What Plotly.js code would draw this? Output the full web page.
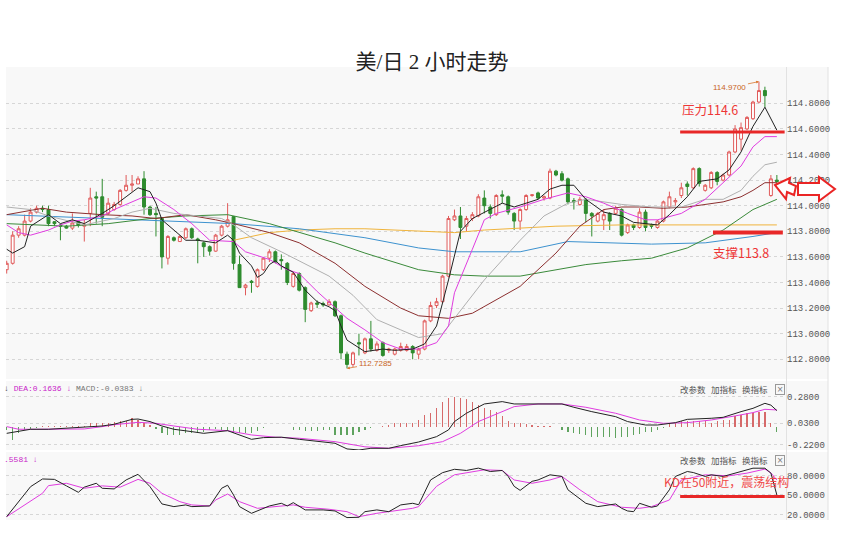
<!DOCTYPE html>
<html><head><meta charset="utf-8">
<script src="https://cdn.plot.ly/plotly-3.0.1.min.js"></script>
<style>html,body{margin:0;padding:0;background:#fff;}#chart{width:844px;height:539px;}</style>
</head><body><div id="chart"></div>
<script>
// ---- candle data (2-hour bars) ----
const candleOpen = [113.50,113.55,113.77,113.77,113.88,113.95,113.98,113.97,113.875,113.85,113.84,113.825,113.876,113.84,113.94,114.07,114.07,113.94,113.97,114.01,114.12,114.16,114.17,114.21,113.99,113.94,113.90,113.59,113.75,113.72,113.75,113.82,113.74,113.71,113.68,113.645,113.77,113.84,113.915,113.54,113.36,113.41,113.37,113.50,113.59,113.64,113.58,113.55,113.37,113.47,113.36,113.18,113.24,113.235,113.225,113.25,113.14,112.84,112.76,112.93,112.85,112.96,112.87,112.93,112.87,112.84,112.87,112.87,112.90,112.84,112.88,113.10,113.22,113.25,113.45,113.89,113.92,113.84,113.90,113.92,114.06,113.99,113.93,114.085,114.07,113.94,113.88,113.97,114.08,114.10,114.06,114.06,114.27,114.25,114.21,114.04,114.01,114.05,113.94,113.88,113.89,113.94,113.94,113.97,113.79,113.85,113.83,113.95,113.85,113.83,113.88,113.99,114.03,114.08,114.17,114.14,114.29,114.12,114.14,114.26,114.20,114.24,114.42,114.52,114.60,114.68,114.81,114.90,114.08,114.20];
const candleHigh = [113.57,113.80,113.84,113.93,113.98,114.00,114.00,114.00,113.88,113.86,113.85,113.94,113.88,113.89,114.14,114.11,114.21,114.06,114.03,114.13,114.24,114.24,114.23,114.27,114.00,113.99,113.91,113.77,113.76,113.77,113.83,113.83,113.75,113.72,113.69,113.78,113.85,114.02,113.92,113.61,113.39,113.42,113.51,113.60,113.66,113.65,113.62,113.56,113.48,113.48,113.37,113.25,113.26,113.25,113.27,113.26,113.15,112.86,112.86,113.00,112.97,113.10,112.94,112.94,112.89,112.89,112.93,112.92,112.91,112.89,113.11,113.25,113.28,113.46,113.92,113.97,113.99,113.92,113.95,114.09,114.12,114.01,114.09,114.12,114.08,113.95,113.98,114.09,114.09,114.11,114.08,114.29,114.28,114.27,114.22,114.06,114.07,114.06,113.95,113.95,113.97,113.95,114.00,113.98,113.86,113.86,113.98,113.97,113.86,113.89,114.04,114.11,114.06,114.18,114.19,114.30,114.30,114.17,114.27,114.27,114.25,114.43,114.63,114.65,114.70,114.82,114.97,114.93,114.24,114.24];
const candleLow = [113.47,113.54,113.75,113.76,113.87,113.94,113.95,113.84,113.84,113.73,113.82,113.81,113.83,113.72,113.84,113.86,113.84,113.93,113.96,114.00,114.11,114.11,114.17,113.93,113.92,113.76,113.51,113.54,113.72,113.72,113.74,113.74,113.55,113.60,113.61,113.64,113.76,113.83,113.50,113.36,113.30,113.32,113.36,113.49,113.56,113.55,113.50,113.38,113.36,113.33,113.09,113.17,113.20,113.21,113.22,113.13,112.80,112.7285,112.74,112.83,112.84,112.86,112.86,112.82,112.85,112.83,112.86,112.86,112.80,112.80,112.87,113.09,113.20,113.24,113.44,113.88,113.74,113.80,113.88,113.91,113.94,113.90,113.92,114.02,113.93,113.81,113.81,113.96,114.07,114.05,114.04,114.05,114.23,114.19,114.01,113.97,114.00,113.87,113.76,113.87,113.81,113.81,113.93,113.76,113.78,113.81,113.82,113.80,113.82,113.82,113.87,113.98,114.00,114.06,114.08,114.13,114.15,114.11,114.13,114.16,114.19,114.23,114.41,114.43,114.59,114.67,114.80,114.77,114.07,114.16];
const candleClose = [113.55,113.77,113.82,113.88,113.95,113.98,113.97,113.86,113.86,113.84,113.825,113.865,113.85,113.85,114.06,114.06,113.91,114.02,114.01,114.12,114.16,114.17,114.21,113.99,113.93,113.93,113.60,113.76,113.73,113.76,113.82,113.75,113.73,113.68,113.645,113.77,113.84,113.89,113.55,113.36,113.38,113.40,113.50,113.59,113.64,113.56,113.57,113.40,113.47,113.34,113.19,113.24,113.23,113.225,113.25,113.14,112.85,112.76,112.85,112.92,112.96,112.88,112.92,112.83,112.88,112.88,112.90,112.90,112.85,112.88,113.10,113.22,113.25,113.45,113.90,113.92,113.83,113.90,113.93,114.07,114.00,113.94,114.08,114.075,113.95,113.88,113.97,114.08,114.085,114.06,114.07,114.27,114.24,114.20,114.03,114.03,114.05,113.94,113.92,113.94,113.93,113.88,113.98,113.77,113.85,113.83,113.95,113.83,113.84,113.88,114.03,114.07,114.04,114.14,114.15,114.29,114.175,114.16,114.26,114.19,114.24,114.42,114.60,114.61,114.69,114.81,114.90,114.86,114.21,114.19];

// ---- moving averages (read at sample bars) ----
const ma5X = [0,1,3,4,7,9,11,13,16,18,20,22,24,25,26,28,30,32,35,37,38,39,41,42,43,44,45,46,48,50,52,54,55,56,57,60,63,65,68,70,72,74,75,76,78,80,83,85,89,91,93,95,97,100,103,105,109,111,114,116,119,121,123,125,127,129];
const ma5Y = [113.66,113.63,113.68,113.84,113.93,113.86,113.89,113.86,113.94,114.00,114.07,114.14,114.11,114.02,113.89,113.81,113.73,113.73,113.71,113.77,113.73,113.63,113.53,113.44,113.47,113.54,113.57,113.53,113.48,113.34,113.25,113.21,113.18,113.06,112.95,112.86,112.88,112.87,112.88,112.92,113.06,113.42,113.62,113.80,113.90,113.95,114.02,113.99,114.05,114.13,114.16,114.16,114.05,113.95,113.92,113.87,113.85,113.93,114.07,114.19,114.21,114.28,114.42,114.62,114.77,114.59];
const ma10X = [0,2,4,7,9,11,13,16,18,21,23,25,28,31,34,38,40,44,47,49,52,57,60,63,66,69,72,74,75,78,80,82,86,90,94,97,100,104,107,109,113,117,120,123,125,127,129];
const ma10Y = [113.85,113.79,113.77,113.81,113.85,113.88,113.89,113.92,113.97,114.03,114.07,114.06,113.97,113.86,113.73,113.72,113.64,113.58,113.50,113.47,113.33,113.12,113.03,112.93,112.88,112.88,112.93,113.06,113.32,113.66,113.89,113.94,113.99,114.05,114.10,114.07,114.02,113.94,113.89,113.89,113.94,114.05,114.18,114.31,114.46,114.54,114.54];
const ma20X = [0,4,7,13,16,18,21,24,28,32,36,38,41,46,49,54,58,62,66,69,73,75,80,86,90,94,97,103,108,113,117,120,123,125,127,129];
const ma20Y = [113.99,113.97,113.92,113.85,113.88,113.90,113.95,113.98,113.94,113.92,113.90,113.85,113.75,113.64,113.57,113.45,113.30,113.11,113.03,112.97,113.00,113.12,113.42,113.73,113.92,114.02,114.05,114.01,113.99,113.99,114.05,114.05,114.12,114.23,114.32,114.34];
const ma30X = [0,6,10,16,21,25,30,35,38,44,49,55,60,66,69,74,78,86,92,96,100,103,106,110,114,120,123,125,127,129];
const ma30Y = [113.93,113.98,113.95,113.93,113.92,113.90,113.93,113.89,113.86,113.79,113.71,113.55,113.37,113.20,113.14,113.12,113.16,113.37,113.63,113.84,113.97,113.99,113.99,113.98,113.99,114.03,114.07,114.12,114.18,114.18];
const ma60X = [0,10,17,24,30,37,44,49,55,60,69,75,80,86,92,97,103,108,114,120,125,129];
const ma60Y = [113.86,113.84,113.86,113.90,113.92,113.93,113.86,113.79,113.71,113.63,113.50,113.46,113.45,113.45,113.50,113.54,113.57,113.59,113.67,113.81,113.97,114.05];
const ma120X = [0,21,38,49,60,69,75,86,94,108,117,125,129];
const ma120Y = [113.93,113.89,113.86,113.82,113.75,113.67,113.64,113.64,113.72,113.70,113.71,113.76,113.79];
const ma250X = [38,44,49,55,60,69,75,80,92,103,114,129];
const ma250Y = [113.73,113.79,113.81,113.82,113.82,113.80,113.79,113.81,113.84,113.85,113.85,113.85];

// ---- MACD ----
const macdHist = [-0.03,-0.125,-0.06,-0.03,-0.02,-0.01,0.005,0.005,0.003,0.004,0.003,0.003,0.005,0.008,0.03,0.03,0.035,0.035,0.04,0.047,0.05,0.078,0.06,0.03,0.01,-0.02,-0.06,-0.08,-0.08,-0.08,-0.065,-0.06,-0.06,-0.05,-0.03,-0.025,-0.03,-0.045,-0.06,-0.062,-0.06,-0.06,-0.045,-0.015,-0.005,-0.004,-0.004,-0.005,-0.03,-0.03,-0.045,-0.045,-0.04,-0.03,-0.03,-0.08,-0.08,-0.08,-0.08,-0.05,-0.03,-0.015,-0.005,0.003,0.01,0.03,0.03,0.03,0.035,0.062,0.11,0.125,0.17,0.234,0.265,0.275,0.27,0.256,0.234,0.2,0.17,0.156,0.14,0.1,0.056,0.03,0.03,0.025,0.01,0.006,0.006,0.006,-0.003,-0.03,-0.056,-0.06,-0.07,-0.078,-0.094,-0.1,-0.1,-0.1,-0.11,-0.1,-0.094,-0.078,-0.07,-0.056,-0.047,-0.03,-0.015,0.03,0.03,0.047,0.047,0.047,0.047,0.047,0.037,0.047,0.06,0.06,0.094,0.11,0.125,0.13,0.14,0.14,0.03,-0.047];
const difX = [0,2,4,7,13,16,18,21,22,24,26,28,31,33,37,39,41,43,46,49,52,55,57,59,61,64,66,69,72,74,75,77,80,83,85,88,91,93,95,98,102,104,107,109,112,114,118,120,123,125,127,128,129];
const difY = [-0.064,-0.048,-0.026,-0.026,-0.007,0.005,0.021,0.067,0.07,0.046,0.005,-0.026,-0.048,-0.064,-0.039,-0.079,-0.12,-0.104,-0.10,-0.12,-0.142,-0.157,-0.21,-0.22,-0.204,-0.204,-0.179,-0.145,-0.095,-0.032,0.046,0.124,0.211,0.233,0.211,0.211,0.211,0.211,0.18,0.139,0.092,0.046,0.014,0.014,0.036,0.067,0.077,0.086,0.139,0.17,0.217,0.2,0.149];
const deaX = [0,2,5,7,13,16,18,22,25,28,32,37,41,45,49,55,60,64,69,73,76,79,83,85,89,93,97,102,106,110,114,118,122,125,127,129];
const deaY = [-0.001,-0.026,-0.026,-0.026,-0.023,-0.001,0.017,0.039,0.03,0.005,-0.026,-0.039,-0.079,-0.10,-0.11,-0.142,-0.19,-0.204,-0.18,-0.142,-0.064,0.046,0.139,0.186,0.211,0.211,0.18,0.124,0.061,0.03,0.036,0.061,0.099,0.13,0.161,0.155];

// ---- KD ----
const kX = [0,2,4,6,8,10,12,13,15,16,18,20,22,24,26,28,30,31,34,36,37,38,39,41,44,46,47,48,50,53,55,57,59,60,62,64,66,68,69,71,73,75,77,79,81,83,84,85,86,88,89,91,93,94,97,99,102,103,104,105,106,108,109,111,112,114,115,117,118,120,122,123,125,127,128,129];
const kY = [16.6,39.7,62.8,74.6,74,64,54.1,62,68,60.3,59.3,73.1,81.8,62.8,36.2,32.1,34.7,32.1,33.1,60.3,65,50,32.1,21.8,33.1,37.2,33.1,38.2,27,27,25.4,15.2,15.7,24.3,27,24.3,34.7,37.2,35,73.1,84.3,89.5,87.7,91.3,86.1,87.7,78.5,63.3,57.1,71,73.1,81,78.5,58,37.2,32.1,36.2,29.5,25.4,24.3,37.2,31.1,33.1,58,78.5,86.1,84.5,78.5,81,78.5,83.6,86.1,91.2,91.2,83.6,50];
const dX = [0,3,6,7,10,13,16,19,22,24,26,29,31,34,35,37,39,42,45,48,50,54,57,59,62,65,68,69,72,75,78,80,83,85,88,91,93,96,99,103,106,108,111,113,117,121,124,127,128,129];
const dY = [16.6,34.7,52.6,64.4,68,60.3,64,62,74,68,52.6,39.7,34.7,33.1,42.3,51.5,39.7,29.5,32.1,34.7,31.1,28,24.3,16.6,21.8,25.4,29.5,32.1,63.3,81,86.1,88.7,87.7,73.1,68,73.1,78.5,58,39.7,31.1,29.5,32.1,42.3,73.1,81,79.5,83.6,89.8,84,73];

// ---- tick labels ----
const priceTicks = [112.8,113.0,113.2,113.4,113.6,113.8,114.0,114.2,114.4,114.6,114.8];
const macdTickVals = [0.28,0.03,-0.17];
const macdTickText = ['0.2800','0.0300','-0.2200'];
const kdTicks = [20,50,80];
const toolWords = ['改参数','加指标','换指标'];

const idx = candleOpen.map((_, i) => i);

// pixel helpers for decorative paper-positioned items
const PL = 6, PR = 786, PT = 67, PB = 520;
const pX = px => (px - PL) / (PR - PL);
const pY = py => (PB - py) / (PB - PT);
function pathFrom(pts){ return 'M ' + pts.map(p => pX(p[0]).toFixed(4) + ',' + pY(p[1]).toFixed(4)).join(' L ') + ' Z'; }

const line = (x, y, color, yaxis) => ({type:'scatter', mode:'lines', x, y, yaxis, line:{color, width:1}, hoverinfo:'skip', showlegend:false});

const traces = [
  line(ma250X, ma250Y, '#f0b43c', 'y'),
  line(ma120X, ma120Y, '#3d92cf', 'y'),
  line(ma60X, ma60Y, '#3a8a3a', 'y'),
  line(ma30X, ma30Y, '#8c2f2f', 'y'),
  line(ma20X, ma20Y, '#b0b0b0', 'y'),
  line(ma10X, ma10Y, '#e03ce0', 'y'),
  line(ma5X, ma5Y, '#222222', 'y'),
  {type:'candlestick', x: idx, open: candleOpen, high: candleHigh, low: candleLow, close: candleClose,
   increasing:{line:{color:'#e05a5a', width:1}, fillcolor:'#ffffff'},
   decreasing:{line:{color:'#2e8b2e', width:1}, fillcolor:'#2e8b2e'},
   whiskerwidth:0, hoverinfo:'skip', showlegend:false, yaxis:'y'},
  {type:'bar', x: idx, y: macdHist, yaxis:'y2', width:0.2,
   marker:{color: macdHist.map(v => v >= 0 ? '#d66a6a' : '#5fa35f'), line:{width:0}},
   hoverinfo:'skip', showlegend:false},
  line(deaX, deaY, '#e03ce0', 'y2'),
  line(difX, difY, '#222222', 'y2'),
  line(dX, dY, '#e03ce0', 'y3'),
  line(kX, kY, '#222222', 'y3')
];

const tickFont = {family:'"Liberation Mono", monospace', size:9, color:'#555'};
const gridStyle = {showgrid:true, gridcolor:'#d6d6d6', griddash:'dot', gridwidth:1, zeroline:false, showline:false, ticks:'', side:'right', anchor:'x', tickfont: tickFont};

const red = '#ee3636';
const cjk = '"Noto Sans CJK SC", sans-serif';
const annotations = [
  {xref:'x', yref:'y', x:126, y:114.97, ax:-29, ay:6, text:'114.9700', showarrow:true, arrowhead:2, arrowsize:0.7, arrowwidth:0.8, arrowcolor:'#d9762e', font:{family:'"Liberation Sans", sans-serif', size:8, color:'#c8641e'}},
  {xref:'x', yref:'y', x:57, y:112.7285, ax:28, ay:-5, text:'112.7285', showarrow:true, arrowhead:2, arrowsize:0.7, arrowwidth:0.8, arrowcolor:'#d9762e', font:{family:'"Liberation Sans", sans-serif', size:8, color:'#c8641e'}},
  {xref:'paper', yref:'paper', x:pX(680), y:pY(109), xanchor:'left', yanchor:'middle', showarrow:false, text:'压力114.6', font:{family:cjk, size:12.5, color:red}},
  {xref:'paper', yref:'paper', x:pX(711), y:pY(252), xanchor:'left', yanchor:'middle', showarrow:false, text:'支撑113.8', font:{family:cjk, size:12.5, color:red}},
  {xref:'paper', yref:'paper', x:pX(662), y:pY(481), xanchor:'left', yanchor:'middle', showarrow:false, text:'KD在50附近，震荡结构', font:{family:cjk, size:12, color:'#f04848'}},
  {xref:'paper', yref:'paper', x:pX(2), y:pY(388), xanchor:'left', yanchor:'middle', showarrow:false,
   text:'<span style="color:#333">↓</span> <span style="color:#c81ec8">DEA:0.1636 ↓</span> <span style="color:#777">MACD:-0.0383 ↓</span>',
   font:{family:'"Liberation Mono", monospace', size:8, color:'#333'}},
  {xref:'paper', yref:'paper', x:pX(2), y:pY(459), xanchor:'left', yanchor:'middle', showarrow:false,
   text:'.5581 ↓', font:{family:'"Liberation Mono", monospace', size:8, color:'#c81ec8'}}
];
const toolX = [693, 724, 755];
[389, 460].forEach(py => {
  toolWords.forEach((w, i) => annotations.push({xref:'paper', yref:'paper', x:pX(toolX[i]), y:pY(py), xanchor:'center', yanchor:'middle', showarrow:false,
    text:w, font:{family:cjk, size:8.5, color:'#555'}}));
  annotations.push({xref:'paper', yref:'paper', x:pX(780), y:pY(py), xanchor:'center', yanchor:'middle', showarrow:false,
    text:'×', width:8, height:9, bordercolor:'#999', borderwidth:1, borderpad:0, font:{family:'"DejaVu Sans", sans-serif', size:8, color:'#777'}});
});

const shapes = [
  {type:'rect', xref:'paper', yref:'paper', x0:0, x1:pX(828), y0:0, y1:1, fillcolor:'#f8f8f8', line:{width:0}, layer:'below'},
  {type:'line', xref:'paper', yref:'paper', x0:0, x1:pX(828), y0:pY(380), y1:pY(380), line:{color:'#ffffff', width:2}, layer:'below'},
  {type:'line', xref:'paper', yref:'paper', x0:0, x1:pX(828), y0:pY(451), y1:pY(451), line:{color:'#ffffff', width:2}, layer:'below'},
  {type:'line', xref:'paper', yref:'paper', x0:pX(786.5), x1:pX(786.5), y0:0, y1:1, line:{color:'#e2e2e2', width:1}, layer:'below'},
  {type:'line', xref:'paper', yref:'paper', x0:pX(828), x1:pX(828), y0:0, y1:1, line:{color:'#e2e2e2', width:1}, layer:'below'},
  {type:'line', xref:'x', yref:'y', x0:112.8, x1:130.3, y0:114.577, y1:114.577, line:{color:'#e82828', width:3}},
  {type:'line', xref:'x', yref:'y', x0:118.3, x1:130.0, y0:113.79, y1:113.79, line:{color:'#e82828', width:4}},
  {type:'line', xref:'x', yref:'y3', x0:112.8, x1:130.3, y0:47.7, y1:47.7, line:{color:'#e82828', width:3}},
  {type:'path', xref:'paper', yref:'paper', path: pathFrom([[775,185],[790,178],[789,183],[796,186],[794,195],[787,192],[786,199]]), fillcolor:'#ffffff', line:{color:'#ea2424', width:2}},
  {type:'path', xref:'paper', yref:'paper', path: pathFrom([[798,183],[819,183],[819,177],[835,189],[819,201],[819,195],[798,195]]), fillcolor:'#ffffff', line:{color:'#ea2424', width:2}}
];

const layout = {
  width:844, height:539,
  margin:{l:PL, r:844-PR, t:PT, b:539-PB, pad:0},
  paper_bgcolor:'#ffffff', plot_bgcolor:'#f8f8f8',
  title:{text:'美/日 2 小时走势', x:432/844, xanchor:'center', xref:'container', y:1-62/539, yanchor:'middle', yref:'container',
         font:{family:'"Liberation Serif", "Noto Sans CJK SC", serif', size:21, color:'#222'}},
  showlegend:false, hovermode:false, dragmode:false,
  xaxis:{range:[-0.117, 130.53], anchor:'y3', showgrid:false, zeroline:false, showticklabels:false, showline:false, ticks:'', rangeslider:{visible:false}, fixedrange:true},
  yaxis:Object.assign({}, gridStyle, {domain:[pY(379), 1], range:[112.646, 115.084], tickvals:priceTicks, tickformat:'.4f', fixedrange:true}),
  yaxis2:Object.assign({}, gridStyle, {domain:[pY(450), pY(381)], range:[-0.220, 0.426], tickvals:macdTickVals, ticktext:macdTickText, fixedrange:true}),
  yaxis3:Object.assign({}, gridStyle, {domain:[0, pY(452)], range:[11.5, 116.1], tickvals:kdTicks, tickformat:'.4f', fixedrange:true}),
  bargap:0,
  annotations, shapes
};

Plotly.newPlot('chart', traces, layout, {displayModeBar:false, staticPlot:true});
</script></body></html>
